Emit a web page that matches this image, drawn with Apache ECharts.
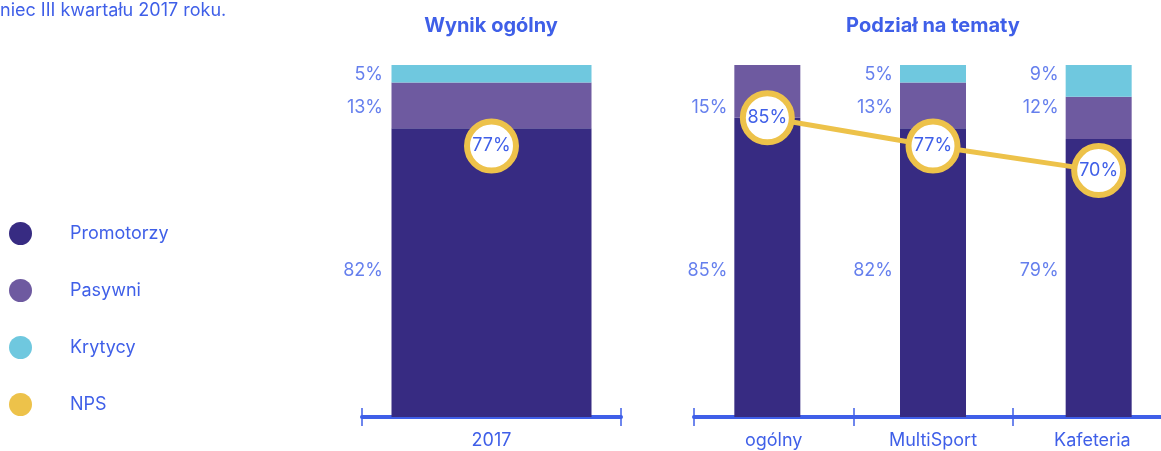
<!DOCTYPE html>
<html>
<head>
<meta charset="utf-8">
<script src="https://cdn.jsdelivr.net/npm/echarts@6/dist/echarts.min.js"></script>
<style>
  html, body { margin: 0; padding: 0; background: #fff; }
  #app { width: 1161px; height: 451px; }
</style>
</head>
<body>
<div id="app"></div>
<script>
// dane
var leftCats = ['2017'];
var leftPromotorzy = [82];
var leftPasywni = [13];
var leftKrytycy = [5];
var leftNps = [77];

var rightCats = ['ogólny', 'MultiSport', 'Kafeteria'];
var rightPromotorzy = [85, 82, 79];
var rightPasywni = [15, 13, 12];
var rightKrytycy = [0, 5, 9];
var rightNps = [85, 77, 70];

var BLUE = '#3f5fe8';
var FONT = 'Inter';
var FS = 18;
var C_PROM = '#372b82';
var C_PAS = '#6e5aa0';
var C_KRY = '#6fc8df';
var C_NPS = '#edc24a';

// wiersze etykiet (poziom na osi 0-100)
var ROW_KRY = 97.4, ROW_PAS = 87.8, ROW_PROM = 41.6;

function rowLabels(rows, xIdx, yIdx, dist) {
    var data = [];
    rows.forEach(function (r) {
        r[0].forEach(function (v, i) {
            if (v > 0) data.push({ value: [i, r[1]], pct: v });
        });
    });
    return {
        type: 'scatter', xAxisIndex: xIdx, yAxisIndex: yIdx, z: 5,
        symbolSize: 1, silent: true,
        itemStyle: { color: 'rgba(0,0,0,0)' },
        label: {
            show: true, position: 'left', distance: dist,
            formatter: function (p) { return p.data.pct + '%'; },
            color: BLUE, fontSize: FS, fontFamily: FONT
        },
        data: data
    };
}

function bar(name, data, color, xIdx, yIdx, stack, width) {
    return {
        name: name, type: 'bar', stack: stack, barWidth: width,
        xAxisIndex: xIdx, yAxisIndex: yIdx,
        itemStyle: { color: color },
        data: data
    };
}

function nps(data, xIdx, yIdx) {
    return {
        name: 'NPS', type: 'line', xAxisIndex: xIdx, yAxisIndex: yIdx, z: 4,
        symbol: 'circle', symbolSize: 49,
        lineStyle: { color: C_NPS, width: 5 },
        itemStyle: { color: '#fff', borderColor: C_NPS, borderWidth: 6 },
        label: {
            show: true, position: 'inside', formatter: '{c}%',
            color: BLUE, fontSize: FS, fontFamily: FONT
        },
        data: data
    };
}

function tickAxis(grid, cats, labels) {
    return {
        type: 'category', gridIndex: grid, data: cats, position: 'bottom',
        axisLine: { show: labels, lineStyle: { color: BLUE, width: 4 } },
        axisTick: { show: true, inside: !labels, length: 9, lineStyle: { color: BLUE, width: 1.5 } },
        axisLabel: { show: labels, color: BLUE, fontSize: FS, fontFamily: FONT, margin: 15 }
    };
}

var myChart = echarts.init(document.getElementById('app'));
myChart.setOption({
    animation: false,
    textStyle: { fontFamily: FONT },
    title: [
        { text: 'Wynik ogólny', left: 491, top: 16, padding: 0, textAlign: 'center',
          textStyle: { color: BLUE, fontSize: 20, fontWeight: 'bold', fontFamily: FONT } },
        { text: 'Podział na tematy', left: 933, top: 16, padding: 0, textAlign: 'center',
          textStyle: { color: BLUE, fontSize: 20, fontWeight: 'bold', fontFamily: FONT } }
    ],
    graphic: [{
        type: 'text', left: 0, top: 2,
        style: { text: 'niec III kwartału 2017 roku.', fill: BLUE, fontSize: 18, fontFamily: FONT }
    }],
    legend: {
        orient: 'vertical', left: 9, top: 222, padding: 0,
        itemWidth: 23, itemHeight: 23, itemGap: 34, icon: 'circle',
        textStyle: { color: BLUE, fontSize: FS, fontFamily: FONT, padding: [0, 0, 0, 33] },
        data: ['Promotorzy', 'Pasywni', 'Krytycy',
            { name: 'NPS', itemStyle: { color: C_NPS, borderWidth: 0 } }]
    },
    grid: [
        { left: 362, width: 259, top: 65, bottom: 34, outerBoundsMode: 'none' },
        { left: 684.5, width: 497, top: 65, bottom: 34, outerBoundsMode: 'none' },
        { left: 694, width: 478, top: 65, bottom: 34, outerBoundsMode: 'none' }
    ],
    xAxis: [
        tickAxis(0, leftCats, true),
        tickAxis(0, leftCats, false),
        { type: 'category', gridIndex: 1, data: rightCats, show: false },
        tickAxis(2, rightCats, true),
        tickAxis(2, rightCats, false)
    ],
    yAxis: [
        { type: 'value', gridIndex: 0, min: 0, max: 100, show: false },
        { type: 'value', gridIndex: 1, min: 0, max: 100, show: false },
        { type: 'value', gridIndex: 2, min: 0, max: 100, show: false }
    ],
    series: [
        bar('Promotorzy', leftPromotorzy, C_PROM, 0, 0, 'l', 200),
        bar('Pasywni', leftPasywni, C_PAS, 0, 0, 'l', 200),
        bar('Krytycy', leftKrytycy, C_KRY, 0, 0, 'l', 200),
        nps(leftNps, 0, 0),
        rowLabels([[leftKrytycy, ROW_KRY], [leftPasywni, ROW_PAS], [leftPromotorzy, ROW_PROM]], 0, 0, 108),

        bar('Promotorzy', rightPromotorzy, C_PROM, 2, 1, 'r', 66),
        bar('Pasywni', rightPasywni, C_PAS, 2, 1, 'r', 66),
        bar('Krytycy', rightKrytycy, C_KRY, 2, 1, 'r', 66),
        nps(rightNps, 2, 1),
        rowLabels([[rightKrytycy, ROW_KRY], [rightPasywni, ROW_PAS], [rightPromotorzy, ROW_PROM]], 2, 1, 39.5)
    ]
});
</script>
</body>
</html>
